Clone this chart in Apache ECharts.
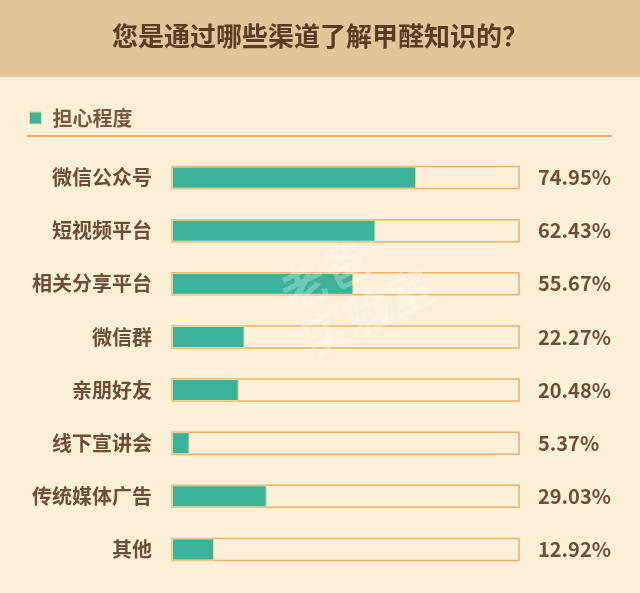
<!DOCTYPE html>
<html><head><meta charset="utf-8">
<script src="https://cdn.jsdelivr.net/npm/echarts@6/dist/echarts.min.js"></script>
<style>html,body{margin:0;padding:0;background:#FEF0D8;}#c{width:640px;height:593px;}</style>
</head><body><div id="c"></div>
<script>
var categories = ['微信公众号','短视频平台','相关分享平台','微信群','亲朋好友','线下宣讲会','传统媒体广告','其他'];
var values = [74.95, 62.43, 55.67, 22.27, 20.48, 5.37, 29.03, 12.92];
var seriesName = '担心程度';
var title = '您是通过哪些渠道了解甲醛知识的？';
var scaleMax = 106.5;

var chart = echarts.init(document.getElementById('c'));
var font = '"Noto Sans CJK SC", "Noto Sans", sans-serif';
chart.setOption({
  backgroundColor: '#FEF0D8',
  animation: false,
  graphic: [
    {type:'rect', left:0, top:0, shape:{width:640, height:77}, style:{fill:'#E2C698'}, z:-1},
    {type:'rect', left:27, top:135, shape:{width:585, height:2}, style:{fill:'#F0A95E'}},
    {type:'text', left:272, top:212, rotation:0.45, style:{text:'老爸\n实验室', fill:'rgba(255,255,255,0.28)', font:'bold 46px "Noto Sans CJK SC"', lineHeight:52}, z:100}
  ],
  title: {
    text: title, left: 'center', top: 18,
    textStyle: {color:'#5A3B25', fontSize:26, fontWeight:'bold', fontFamily:font}
  },
  legend: {
    left: 24, top: 103, itemWidth: 12, itemHeight: 12, itemGap: 6,
    icon: 'rect',
    itemStyle: {borderColor:'#E9D9A2', borderWidth:1},
    textStyle: {color:'#7A5844', fontSize:20, fontWeight:'bold', fontFamily:font, padding:[0,0,0,6]},
    data: [seriesName]
  },
  grid: {left:172, right:121, top:151, bottom:17},
  xAxis: {type:'value', min:0, max:scaleMax, show:false},
  yAxis: [
    {type:'category', data:categories, inverse:true,
     axisLine:{show:false}, axisTick:{show:false},
     axisLabel:{color:'#6E4D3A', fontSize:20, fontWeight:'bold', fontFamily:font, margin:20}},
    {type:'category', data:values.map(function(v){return v.toFixed(2)+'%';}), inverse:true, position:'right',
     axisLine:{show:false}, axisTick:{show:false},
     axisLabel:{color:'#6E4D3A', fontSize:20, fontWeight:'bold', fontFamily:font, margin:19, align:'left'}}
  ],
  series: [{
    name: seriesName, type:'bar', data: values, barWidth: 22,
    itemStyle: {color:'#3BB39C', borderColor:'#E9D9A2', borderWidth:1},
    showBackground: true,
    backgroundStyle: {color:'#FEF0D8', borderColor:'#EDB06A', borderWidth:1.5}
  }]
});
</script></body></html>
